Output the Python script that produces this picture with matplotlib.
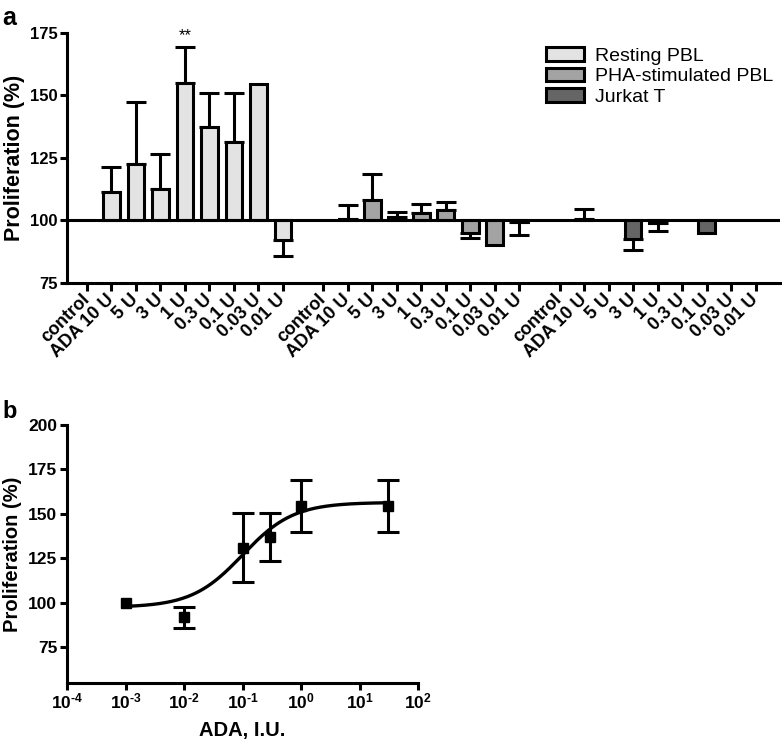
import numpy as np
import matplotlib
matplotlib.use('Agg')
import matplotlib.pyplot as plt
from matplotlib.patches import Patch
from matplotlib.ticker import FixedLocator, NullLocator, FuncFormatter

plt.rcParams['font.family'] = ['Liberation Sans', 'DejaVu Sans']
plt.rcParams['mathtext.fontset'] = 'custom'
plt.rcParams['mathtext.bf'] = 'Liberation Sans:bold'
plt.rcParams['mathtext.rm'] = 'Liberation Sans:bold'

# ---- panel a data ----
doses = ['control', 'ADA 10 U', '5 U', '3 U', '1 U', '0.3 U', '0.1 U', '0.03 U', '0.01 U']
groups = ['Resting PBL', 'PHA-stimulated PBL', 'Jurkat T']
resting = [100, 111.5, 122.5, 112.5, 155, 137.5, 131.5, 154.5, 92]
resting_err = [0, 10, 25, 14, 14.5, 13.5, 19.5, 0, 6.3]
pha = [100, 100.7, 108.3, 101.2, 103, 104, 95, 90.2, 99.3]
pha_err = [0, 5.5, 10.2, 2, 3.5, 3.5, 2, 0, 5.3]
jurkat = [100, 100.5, 100, 92.6, 99, 100, 95, 100, 100]
jurkat_err = [0, 4, 0, 4.6, 3.4, 0, 0, 0, 0]
colors = ['#e3e3e3', '#a3a3a3', '#656565']

# ---- panel b data ----
ada_iu = [1e-3, 1e-2, 1e-1, 0.3, 1.0, 30.0]
prolif = [100, 92, 131, 137, 154.5, 154.5]
prolif_err = [0, 6, 19.5, 13.5, 14.5, 14.5]
fit_bottom, fit_top, fit_ec50, fit_hill = 97.5, 156.5, 0.1, 1.0

LW = 2.2
fig = plt.figure(figsize=(7.82, 7.42), dpi=100)

# ================= panel a =================
ax = fig.add_axes([0.0857, 0.6186, 0.9115, 0.337])
step = 9.65
series = [(resting, resting_err), (pha, pha_err), (jurkat, jurkat_err)]
all_x, all_lab = [], []
for g, (vals, errs) in enumerate(series):
    x = np.arange(len(doses)) + g * step
    vals = np.array(vals, dtype=float)
    errs = np.array(errs, dtype=float)
    h = vals - 100
    show = h != 0
    ax.bar(x[show], h[show], bottom=100, width=0.68, color=colors[g],
           edgecolor='black', linewidth=LW, zorder=3)
    # error bars only pointing away from the baseline
    for xi, vi, hi, e in zip(x, vals, h, errs):
        if e <= 0:
            continue
        yerr = [[0], [e]] if hi > 0 else [[e], [0]]
        ax.errorbar(xi, vi, yerr=yerr, fmt='none', ecolor='black',
                    elinewidth=LW, capsize=7, capthick=LW, zorder=2)
    all_x.extend(x)
    all_lab.extend(doses)

ax.axhline(100, color='black', lw=LW, zorder=4)
ax.set_xlim(-0.816, 28.29)
ax.set_ylim(75, 175)
ax.set_yticks([75, 100, 125, 150, 175])
ax.set_xticks(all_x)
ax.set_xticklabels(all_lab, rotation=45, ha='right', va='center',
                   rotation_mode='anchor', fontsize=13, fontweight='bold')
for lab in ax.get_yticklabels():
    lab.set_fontweight('bold')
    lab.set_fontsize(12)
ax.spines['top'].set_visible(False)
ax.spines['right'].set_visible(False)
ax.spines['left'].set_linewidth(LW)
ax.spines['bottom'].set_linewidth(LW)
ax.tick_params(axis='both', direction='out', width=LW, length=5, pad=2)
ax.tick_params(axis='x', length=6, pad=4)
ax.set_ylabel('Proliferation (%)', fontsize=15.5, fontweight='bold', labelpad=3)
ax.text(4, 171, '**', ha='center', va='bottom', fontsize=12)

handles = [Patch(facecolor=c, edgecolor='black', linewidth=LW) for c in colors]
ax.legend(handles, groups, loc='upper left', bbox_to_anchor=(0.661, 0.975),
          frameon=False, fontsize=14, handlelength=1.95, handleheight=0.7,
          labelspacing=0.15, handletextpad=0.55, borderaxespad=0)

# ================= panel b =================
bx = fig.add_axes([0.0857, 0.0795, 0.449, 0.3477])
bx.set_xscale('log')
xs = np.logspace(-3, np.log10(30), 200)
fit = fit_bottom + (fit_top - fit_bottom) / (1 + (fit_ec50 / xs) ** fit_hill)
bx.plot(xs, fit, color='black', lw=2.4, zorder=2)
bx.plot(ada_iu, prolif, 's', color='black', markersize=6.5, zorder=3)
ex = [a for a, e in zip(ada_iu, prolif_err) if e > 0]
ey = [p for p, e in zip(prolif, prolif_err) if e > 0]
ee = [e for e in prolif_err if e > 0]
bx.errorbar(ex, ey, yerr=ee, fmt='none', ecolor='black',
            elinewidth=LW, capsize=8, capthick=LW, zorder=3)
bx.set_xlim(1e-4, 1e2)
bx.set_ylim(55, 200)
bx.set_yticks([75, 100, 125, 150, 175, 200])
bx.xaxis.set_major_locator(FixedLocator([10.0 ** k for k in range(-4, 3)]))
bx.xaxis.set_minor_locator(NullLocator())
bx.xaxis.set_major_formatter(FuncFormatter(
    lambda v, p: r'$\mathbf{10^{\text{-}%d}}$' % -int(round(np.log10(v)))
    if v < 1 else r'$\mathbf{10^{%d}}$' % int(round(np.log10(v)))))
for lab in bx.get_yticklabels() + bx.get_xticklabels():
    lab.set_fontweight('bold')
    lab.set_fontsize(12.5)
bx.spines['top'].set_visible(False)
bx.spines['right'].set_visible(False)
bx.spines['left'].set_linewidth(LW)
bx.spines['bottom'].set_linewidth(LW)
bx.tick_params(axis='both', direction='out', width=LW, length=5, pad=2)
bx.tick_params(axis='x', length=5, pad=1)
bx.set_ylabel('Proliferation (%)', fontsize=14.5, fontweight='bold', labelpad=4)
bx.set_xlabel('ADA, I.U.', fontsize=14.5, fontweight='bold', labelpad=7)

fig.text(0.003, 0.9663, 'a', fontsize=18, fontweight='bold', va='baseline')
fig.text(0.003, 0.4367, 'b', fontsize=17, fontweight='bold', va='baseline')

fig.savefig('out.png', dpi=100)
